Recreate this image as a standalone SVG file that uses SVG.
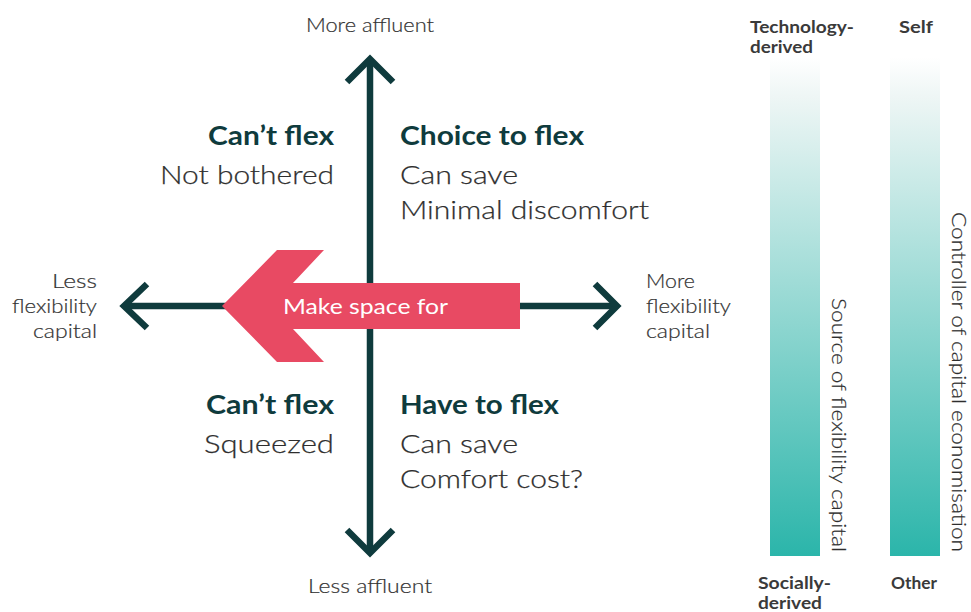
<svg xmlns="http://www.w3.org/2000/svg" width="971" height="612" viewBox="0 0 971 612">
  <style>
    text { font-family: Lato, "Open Sans", "Liberation Sans", sans-serif; }
    .axis { fill: none; stroke: #0f3b3d; stroke-width: 6.5; stroke-linecap: butt; stroke-linejoin: miter; }
    .title { font-size: 26px; font-weight: 700; fill: #0f3b3d; }
    .body { font-size: 26px; font-weight: 300; fill: #2e2e2e; stroke: #2e2e2e; stroke-width: 0.25; }
    .lbl { font-size: 19px; font-weight: 300; fill: #333333; stroke: #333333; stroke-width: 0.2; }
    .end { font-size: 17px; font-weight: 700; fill: #3a3a3a; }
    .side { font-size: 19px; font-weight: 300; fill: #2e2e2e; stroke: #2e2e2e; stroke-width: 0.2; }
  </style>
  <defs>
    <linearGradient id="barFill" x1="0" y1="0" x2="0" y2="1">
      <stop offset="0" stop-color="#ffffff"/>
      <stop offset="0.08" stop-color="#eef6f5"/>
      <stop offset="1" stop-color="#2bb5aa"/>
    </linearGradient>
  </defs>

  <rect width="971" height="612" fill="#ffffff"/>

  <!-- axes -->
  <g id="connectors">
    <line class="axis" x1="370" y1="60" x2="370" y2="552"/>
    <polyline class="axis" points="347,82 370,59 393,82"/>
    <polyline class="axis" points="347,530 370,553 393,530"/>
    <line class="axis" x1="125" y1="306" x2="616" y2="306"/>
    <polyline class="axis" points="147,284 124,306 147,328"/>
    <polyline class="axis" points="595,284 617,306 595,328"/>
  </g>

  <!-- axis labels -->
  <g id="label-more-affluent">
    <text class="lbl" x="370" y="32" text-anchor="middle" textLength="128" lengthAdjust="spacingAndGlyphs">More affluent</text>
  </g>
  <g id="label-less-affluent">
    <text class="lbl" x="370" y="593" text-anchor="middle" textLength="124" lengthAdjust="spacingAndGlyphs">Less affluent</text>
  </g>
  <g id="label-less-flex">
    <text class="lbl" x="97" y="288" text-anchor="end" textLength="45" lengthAdjust="spacingAndGlyphs">Less</text>
    <text class="lbl" x="97" y="313" text-anchor="end" textLength="85" lengthAdjust="spacingAndGlyphs">flexibility</text>
    <text class="lbl" x="97" y="338" text-anchor="end" textLength="64" lengthAdjust="spacingAndGlyphs">capital</text>
  </g>
  <g id="label-more-flex">
    <text class="lbl" x="646" y="288" textLength="49" lengthAdjust="spacingAndGlyphs">More</text>
    <text class="lbl" x="646" y="313" textLength="85" lengthAdjust="spacingAndGlyphs">flexibility</text>
    <text class="lbl" x="646" y="338" textLength="64" lengthAdjust="spacingAndGlyphs">capital</text>
  </g>

  <!-- make space arrow -->
  <g id="make-space">
    <polygon points="222,306 277,250 324,250 293,283 520,283 520,329 293,329 324,362 277,362" fill="#e84a63"/>
    <text x="283" y="314" font-size="21" font-weight="400" fill="#ffffff" textLength="165" lengthAdjust="spacingAndGlyphs">Make space for</text>
  </g>

  <!-- quadrants -->
  <g id="q-top-left">
    <text class="title" x="334" y="145" text-anchor="end" textLength="126" lengthAdjust="spacingAndGlyphs">Can’t flex</text>
    <text class="body" x="334" y="184" text-anchor="end" textLength="174" lengthAdjust="spacingAndGlyphs">Not bothered</text>
  </g>
  <g id="q-top-right">
    <text class="title" x="400" y="145" textLength="184" lengthAdjust="spacingAndGlyphs">Choice to flex</text>
    <text class="body" x="400" y="184" textLength="118" lengthAdjust="spacingAndGlyphs">Can save</text>
    <text class="body" x="400" y="219" textLength="249" lengthAdjust="spacingAndGlyphs">Minimal discomfort</text>
  </g>
  <g id="q-bottom-left">
    <text class="title" x="334" y="414" text-anchor="end" textLength="128" lengthAdjust="spacingAndGlyphs">Can’t flex</text>
    <text class="body" x="334" y="453" text-anchor="end" textLength="130" lengthAdjust="spacingAndGlyphs">Squeezed</text>
  </g>
  <g id="q-bottom-right">
    <text class="title" x="400" y="414" textLength="159" lengthAdjust="spacingAndGlyphs">Have to flex</text>
    <text class="body" x="400" y="453" textLength="118" lengthAdjust="spacingAndGlyphs">Can save</text>
    <text class="body" x="400" y="488" textLength="183" lengthAdjust="spacingAndGlyphs">Comfort cost?</text>
  </g>

  <!-- source scale -->
  <g id="scale-source">
    <rect x="770" y="57" width="50" height="499" fill="url(#barFill)"/>
    <text class="end" x="750" y="33" textLength="104" lengthAdjust="spacingAndGlyphs">Technology-</text>
    <text class="end" x="750" y="53" textLength="63" lengthAdjust="spacingAndGlyphs">derived</text>
    <text class="end" x="758" y="589" textLength="73" lengthAdjust="spacingAndGlyphs">Socially-</text>
    <text class="end" x="758" y="609" textLength="64" lengthAdjust="spacingAndGlyphs">derived</text>
    <text class="side" transform="translate(832,298) rotate(90)" textLength="254" lengthAdjust="spacingAndGlyphs">Source of flexibility capital</text>
  </g>

  <!-- controller scale -->
  <g id="scale-controller">
    <rect x="890" y="57" width="50" height="499" fill="url(#barFill)"/>
    <text class="end" x="899" y="33" textLength="34" lengthAdjust="spacingAndGlyphs">Self</text>
    <text class="end" x="891" y="589" textLength="46" lengthAdjust="spacingAndGlyphs">Other</text>
    <text class="side" transform="translate(952,212) rotate(90)" textLength="340" lengthAdjust="spacingAndGlyphs">Controller of capital economisation</text>
  </g>
</svg>
